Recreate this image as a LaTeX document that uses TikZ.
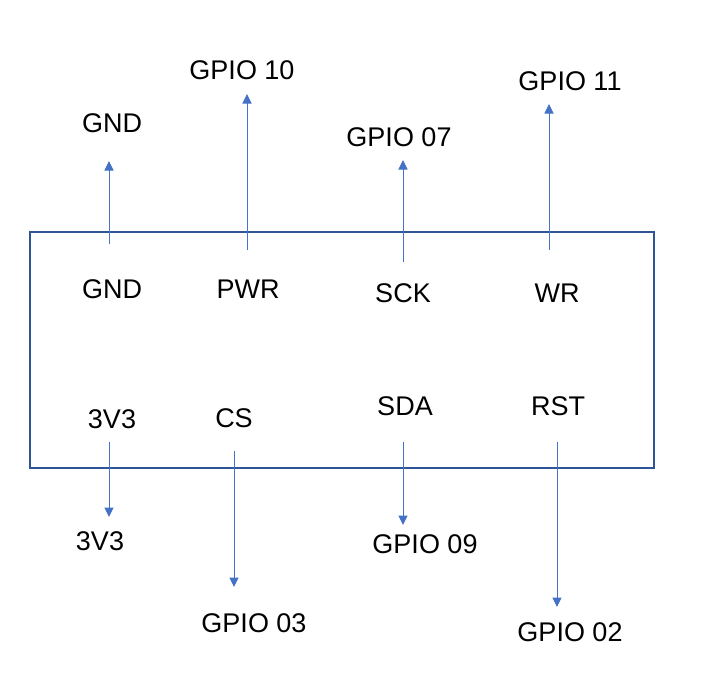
\documentclass[tikz,border=0pt]{standalone}
\usepackage{fontspec}
\setmainfont{Liberation Sans}
\usetikzlibrary{arrows.meta}
\definecolor{boxblue}{HTML}{2F5597}
\definecolor{arrblue}{HTML}{4472C4}
\tikzset{
  lbl/.style={inner sep=0pt, font=\fontsize{27}{30}\selectfont, text=black},
  pin/.style={draw=arrblue, line width=1pt, -{Triangle[width=9pt,length=9.5pt]}, arrblue},
  chip/.style={draw=boxblue, line width=2pt}
}
\begin{document}
\begin{tikzpicture}[x=1pt,y=-1pt]
\useasboundingbox (0,0) rectangle (703,691);
\draw[chip] (30,232) rectangle (654,468);
% coordinates
\coordinate (gndS) at (109,244); \coordinate (gndE) at (109,161);
\coordinate (pwrS) at (247,250); \coordinate (pwrE) at (247,94);
\coordinate (sckS) at (403,262); \coordinate (sckE) at (403,160);
\coordinate (wrS) at (549,250); \coordinate (wrE) at (549,104);
\coordinate (v33S) at (109,442); \coordinate (v33E) at (109,517);
\coordinate (csS) at (234,451); \coordinate (csE) at (234,587);
\coordinate (sdaS) at (403,442); \coordinate (sdaE) at (403,525);
\coordinate (rstS) at (557,442); \coordinate (rstE) at (557,607);
% arrows
\draw[pin] (gndS) -- (gndE);
\draw[pin] (pwrS) -- (pwrE);
\draw[pin] (sckS) -- (sckE);
\draw[pin] (wrS) -- (wrE);
\draw[pin] (v33S) -- (v33E);
\draw[pin] (csS) -- (csE);
\draw[pin] (sdaS) -- (sdaE);
\draw[pin] (rstS) -- (rstE);
% top labels
\node[lbl] (tgnd) at (112,123) {GND};
\node[lbl] (t10) at (242,70) {GPIO 10};
\node[lbl] (t07) at (399,137) {GPIO 07};
\node[lbl] (t11) at (570,81) {GPIO 11};
% inner labels
\node[lbl] (igdn) at (112,289) {GND};
\node[lbl] (ipwr) at (248,289) {PWR};
\node[lbl] (isck) at (403,293) {SCK};
\node[lbl] (iwr) at (557,293) {WR};
\node[lbl] (i33) at (112,419) {3V3};
\node[lbl] (ics) at (234,418) {CS};
\node[lbl] (isda) at (405,406) {SDA};
\node[lbl] (irst) at (558,406) {RST};
% bottom labels
\node[lbl] (b33) at (100,541) {3V3};
\node[lbl] (b03) at (254,623) {GPIO 03};
\node[lbl] (b09) at (425,544) {GPIO 09};
\node[lbl] (b02) at (570,632) {GPIO 02};
\end{tikzpicture}
\end{document}
